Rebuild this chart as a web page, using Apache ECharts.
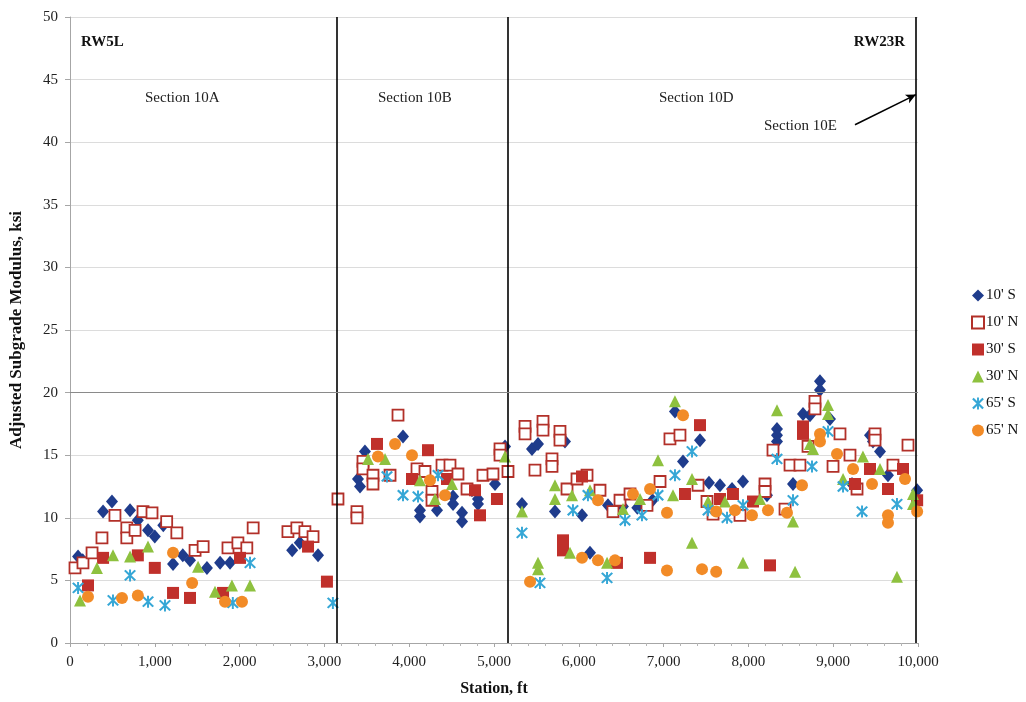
<!DOCTYPE html>
<html>
<head>
<meta charset="utf-8">
<script src="https://cdn.jsdelivr.net/npm/echarts@6/dist/echarts.min.js"></script>
<style>
  html, body { margin: 0; padding: 0; background: #fff; }
  #chart { width: 1026px; height: 702px; }
</style>
</head>
<body>
<div id="chart"></div>
<script>
// Station (ft) vs adjusted subgrade modulus (ksi), one list per sensor offset
const seriesNames = ["10' S", "10' N", "30' S", "30' N", "65' S", "65' N"];

const s10S = [[95,6.9],[150,6.6],[390,10.5],[495,11.3],[708,10.6],[800,9.8],[920,9.0],[1000,8.5],[1100,9.4],[1215,6.3],[1330,7.0],[1415,6.6],[1615,6.0],[1770,6.4],[1887,6.4],[2620,7.4],[2710,8.0],[2925,7.0],
  [3396,13.1],[3420,12.5],[3478,15.3],[3927,16.5],[4127,10.6],[4127,10.1],[4328,10.6],[4517,11.7],[4517,11.1],[4623,10.4],[4623,9.7],[4740,12.2],[4811,11.5],[4811,11.1],[5012,12.7],[5130,15.7],
  [5330,11.1],[5448,15.5],[5519,15.9],[5719,10.5],[5837,16.1],[6038,10.2],[6132,7.2],[6344,11.0],[6520,10.9],[6690,10.8],[6870,11.4],[7134,18.5],[7229,14.5],[7429,16.2],[7535,12.8],[7665,12.6],[7807,12.3],[7936,12.9],[8219,11.8],[8337,17.1],[8337,16.6],[8337,16.1],[8526,12.7],[8644,18.3],[8726,18.2],[8844,20.9],[8844,20.2],[8962,17.9],[9222,12.7],[9434,16.6],[9469,16.1],[9552,15.3],[9646,13.4],[9990,12.2]];

const s10N = [[59,6.0],[153,6.4],[260,7.2],[377,8.4],[530,10.2],[670,9.2],[670,8.4],[767,9.0],[861,10.5],[967,10.4],[1140,9.7],[1260,8.8],[1475,7.4],[1570,7.7],[1863,7.6],[1980,8.0],[2085,7.6],[2160,9.2],[2570,8.9],[2675,9.2],[2770,8.9],[2866,8.5],[3160,11.5],
  [3384,10.5],[3384,10.0],[3455,14.5],[3455,13.9],[3573,13.4],[3573,12.7],[3774,13.4],[3868,18.2],[4092,13.9],[4186,13.7],[4269,12.1],[4269,11.4],[4387,14.2],[4481,14.2],[4575,13.5],[4682,12.3],[4870,13.4],[4988,13.5],[5071,15.5],[5071,15.0],[5165,13.7],
  [5366,17.3],[5366,16.7],[5483,13.8],[5578,17.7],[5578,17.0],[5684,14.7],[5684,14.1],[5778,16.9],[5778,16.2],[5861,12.3],[5979,13.1],[6097,13.4],[6250,12.2],[6403,10.5],[6486,11.4],[6604,11.9],[6804,11.0],[6958,12.9],[7075,16.3],[7193,16.6],[7406,12.6],[7512,11.3],[7583,10.3],[7901,10.2],[8196,12.7],[8196,12.1],[8290,15.4],[8432,10.7],[8491,14.2],[8608,14.2],[8703,15.7],[8785,19.3],[8785,18.7],[8998,14.1],[9080,16.7],[9198,15.0],[9281,12.3],[9493,16.7],[9493,16.2],[9705,14.2],[9882,15.8]];

const s30S = [[212,4.6],[390,6.8],[800,7.0],[1000,6.0],[1215,4.0],[1415,3.6],[1805,4.0],[2005,6.8],[2807,7.7],[3030,4.9],
  [3620,15.9],[4033,13.1],[4222,15.4],[4446,13.1],[4776,12.2],[4835,10.2],[5035,11.5],
  [5814,8.2],[5814,7.4],[6038,13.3],[6450,6.4],[6840,6.8],[7252,11.9],[7429,17.4],[7665,11.5],[7818,11.9],[8054,11.3],[8255,6.2],[8644,17.3],[8644,16.7],[9257,12.7],[9434,13.9],[9646,12.3],[9823,13.9],[9990,11.4]];

const s30N = [[118,3.4],[318,6.0],[507,7.0],[708,6.9],[920,7.7],[1510,6.1],[1710,4.1],[1910,4.6],[2123,4.6],
  [3514,14.7],[3715,14.7],[4127,13.0],[4304,11.5],[4505,12.7],[5130,14.9],
  [5330,10.5],[5519,6.4],[5519,5.9],[5719,12.6],[5719,11.5],[5896,7.2],[5920,11.8],[6132,12.2],[6333,6.4],[6521,10.7],[6722,11.5],[6934,14.6],[7111,11.8],[7134,19.3],[7335,13.1],[7335,8.0],[7524,11.3],[7724,11.3],[7936,6.4],[8137,11.5],[8337,18.6],[8526,9.7],[8550,5.7],[8726,15.9],[8762,15.5],[8939,19.0],[8939,18.3],[9116,13.1],[9351,14.9],[9552,13.9],[9752,5.3],[9941,11.9],[9941,11.1]];

const s65S = [[95,4.4],[507,3.4],[708,5.4],[920,3.3],[1120,3.0],[1920,3.2],[2123,6.4],[3100,3.2],
  [3738,13.3],[3927,11.8],[4104,11.7],[4340,13.4],
  [5330,8.8],[5542,4.8],[5931,10.6],[6108,11.8],[6333,5.2],[6545,9.8],[6745,10.2],[6934,11.8],[7134,13.4],[7335,15.3],[7524,10.6],[7748,10.0],[7936,11.0],[8337,14.7],[8526,11.4],[8750,14.1],[8939,16.9],[9116,12.5],[9340,10.5],[9752,11.1]];

const s65N = [[212,3.7],[613,3.6],[800,3.8],[1215,7.2],[1440,4.8],[1828,3.3],[2028,3.3],
  [3632,14.9],[3833,15.9],[4033,15.0],[4245,13.0],[4422,11.8],
  [5425,4.9],[6038,6.8],[6226,6.6],[6226,11.4],[6427,6.6],[6639,11.9],[6840,12.3],[7040,10.4],[7040,5.8],[7229,18.2],[7453,5.9],[7620,5.7],[7620,10.5],[7842,10.6],[8042,10.2],[8231,10.6],[8455,10.4],[8632,12.6],[8844,16.7],[8844,16.1],[9045,15.1],[9234,13.9],[9458,12.7],[9646,10.2],[9646,9.6],[9847,13.1],[9990,10.5]];

// Section boundaries (station, ft) and the reference modulus line (ksi)
const sectionBounds = [3150, 5165, 9970];
const refModulus = 20;
const arrowFrom = [9257, 41.4];
const arrowTo = [9976, 43.8];

const serif = "'Liberation Serif', 'Times New Roman', serif";
const asterisk = 'path://M4.2,0L5.8,0L5.8,10L4.2,10Z M1.4,0.3L9.9,8.6L8.6,9.7L0.1,1.4Z M8.6,0.3L9.9,1.4L1.4,9.7L0.1,8.6Z';

const chart = echarts.init(document.getElementById('chart'), null, { renderer: 'canvas' });

function pointSeries(name, data, symbol, size, style, extra) {
  return Object.assign({
    name: name,
    type: 'scatter',
    data: data,
    symbol: symbol,
    symbolSize: size,
    itemStyle: Object.assign({ opacity: 1 }, style),
    emphasis: { disabled: true }
  }, extra || {});
}

const option = {
  animation: false,
  backgroundColor: '#ffffff',
  grid: { left: 70, right: 108, top: 17, bottom: 57, containLabel: false },
  legend: {
    orient: 'vertical',
    left: 966,
    top: 283,
    itemWidth: 12,
    itemHeight: 12,
    itemGap: 12,
    textStyle: { fontFamily: serif, fontSize: 15, color: '#111', padding: [0, 0, 0, -3] },
    data: seriesNames
  },
  xAxis: {
    type: 'value',
    min: 0, max: 10000, interval: 1000,
    name: 'Station, ft',
    nameLocation: 'middle',
    nameGap: 38,
    nameTextStyle: { fontFamily: serif, fontSize: 16, fontWeight: 'bold', color: '#111' },
    axisLine: { show: true, lineStyle: { color: '#a6a6a6', width: 1 } },
    axisTick: { show: true, length: 4, lineStyle: { color: '#a6a6a6' } },
    minorTick: { show: true, splitNumber: 5, length: 3, lineStyle: { color: '#b5b5b5' } },
    splitLine: { show: false },
    axisLabel: {
      fontFamily: serif, fontSize: 15, color: '#222', margin: 12,
      formatter: v => v.toLocaleString('en-US')
    }
  },
  yAxis: {
    type: 'value',
    min: 0, max: 50, interval: 5,
    name: 'Adjusted Subgrade Modulus, ksi',
    nameLocation: 'middle',
    nameGap: 45,
    nameTextStyle: { fontFamily: serif, fontSize: 17, fontWeight: 'bold', color: '#111' },
    axisLine: { show: true, lineStyle: { color: '#a6a6a6', width: 1 } },
    axisTick: { show: true, length: 5, lineStyle: { color: '#a6a6a6' } },
    splitLine: { show: true, lineStyle: { color: '#dcdcdc', width: 1 } },
    axisLabel: { fontFamily: serif, fontSize: 15, color: '#222', margin: 12 }
  },
  graphic: [
    { type: 'text', left: 81, top: 35, style: { text: 'RW5L', font: 'bold 15px ' + serif, fill: '#111' } },
    { type: 'text', right: 121, top: 35, style: { text: 'RW23R', font: 'bold 15px ' + serif, fill: '#111' } },
    { type: 'text', left: 145, top: 91, style: { text: 'Section 10A', font: '15px ' + serif, fill: '#222' } },
    { type: 'text', left: 378, top: 91, style: { text: 'Section 10B', font: '15px ' + serif, fill: '#222' } },
    { type: 'text', left: 659, top: 91, style: { text: 'Section 10D', font: '15px ' + serif, fill: '#222' } },
    { type: 'text', left: 764, top: 119, style: { text: 'Section 10E', font: '15px ' + serif, fill: '#222' } }
  ],
  series: [
    pointSeries("10' S", s10S, 'diamond', [12, 14], { color: '#1f3c8c' }, {
      markLine: {
        silent: true,
        symbol: ['none', 'none'],
        label: { show: false },
        lineStyle: { color: '#000', width: 1.6, type: 'solid' },
        data: sectionBounds.map(v => ({ xAxis: v }))
          .concat([{ yAxis: refModulus, lineStyle: { color: '#8a8a8a', width: 1 } }])
          .concat([[
            { coord: arrowFrom, symbol: 'none' },
            { coord: arrowTo, symbol: 'arrow', symbolSize: [7, 10] }
          ]])
      }
    }),
    pointSeries("10' N", s10N, 'rect', 11, { color: '#ffffff', borderColor: '#b23029', borderWidth: 1.8 }),
    pointSeries("30' S", s30S, 'rect', 12, { color: '#c0302b' }),
    pointSeries("30' N", s30N, 'triangle', 12, { color: '#8ec13f' }),
    pointSeries("65' S", s65S, asterisk, 12, { color: '#36a7d6' }),
    pointSeries("65' N", s65N, 'circle', 12, { color: '#f28b27' })
  ]
};

chart.setOption(option);
</script>
</body>
</html>
